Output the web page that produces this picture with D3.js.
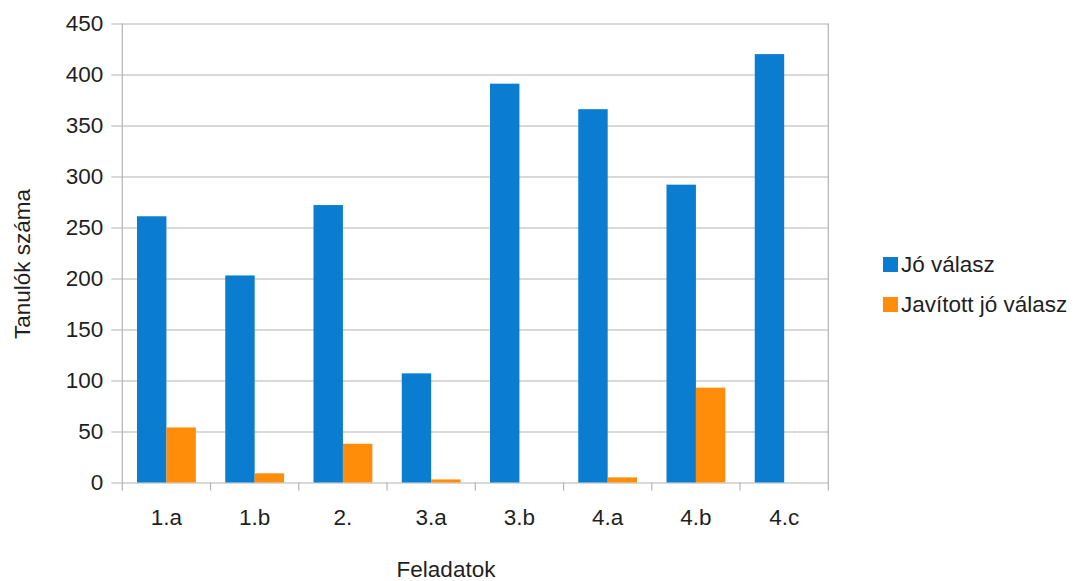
<!DOCTYPE html>
<html>
<head>
<meta charset="utf-8">
<script src="https://cdn.jsdelivr.net/npm/d3@7"></script>
<style>
  html, body { margin: 0; padding: 0; background: #fff; }
  svg { display: block; font-family: "Liberation Sans", Arial, sans-serif; }
</style>
</head>
<body>
<svg id="chart" width="1085" height="581"></svg>
<script>
// Task labels and counts of students per series
const categories = ["1.a", "1.b", "2.", "3.a", "3.b", "4.a", "4.b", "4.c"];
const goodAnswers = [261, 203, 272, 107, 391, 366, 292, 420];
const correctedAnswers = [54, 9, 38, 3, 0, 5, 93, 0];
const seriesNames = ["Jó válasz", "Javított jó válasz"];
const seriesColors = ["#0a7dd1", "#ff8d0a"];
const yTicks = [0, 50, 100, 150, 200, 250, 300, 350, 400, 450];

const svg = d3.select("#chart");
const plot = { left: 122.3, right: 828.3, top: 23.5, bottom: 482.5 };
const textColor = "#1f1f1f";
const gridColor = "#b3b3b3";
const fontSize = 22.5;

const x = d3.scaleBand().domain(categories).range([plot.left, plot.right]).paddingInner(0).paddingOuter(0);
const sub = d3.scaleBand().domain([0, 1]).range([x.bandwidth() / 6, x.bandwidth() * 5 / 6]).padding(0);
const y = d3.scaleLinear().domain([0, 450]).range([plot.bottom, plot.top]);

// horizontal gridlines with outer ticks
const yAxis = d3.axisLeft(y).tickValues(yTicks).tickSize(plot.right - plot.left + 11).tickPadding(8);
const gy = svg.append("g").attr("transform", `translate(${plot.right},0)`).call(yAxis);
gy.select(".domain").remove();
gy.selectAll(".tick line").attr("stroke", gridColor).attr("stroke-width", 1.2);
gy.selectAll(".tick text").attr("fill", textColor).attr("font-size", fontSize)
  .attr("font-family", "Liberation Sans, Arial, sans-serif");

// vertical frame lines at left and right of the plot
svg.append("line").attr("x1", plot.left).attr("x2", plot.left)
  .attr("y1", plot.top).attr("y2", plot.bottom + 8).attr("stroke", gridColor).attr("stroke-width", 1.2);
svg.append("line").attr("x1", plot.right).attr("x2", plot.right)
  .attr("y1", plot.top).attr("y2", plot.bottom + 8).attr("stroke", gridColor).attr("stroke-width", 1.2);

// category axis
const xAxis = d3.axisBottom(x).tickSize(0).tickPadding(27);
const gx = svg.append("g").attr("transform", `translate(0,${plot.bottom})`).call(xAxis);
gx.select(".domain").remove();
gx.selectAll(".tick text").attr("fill", textColor).attr("font-size", fontSize)
  .attr("font-family", "Liberation Sans, Arial, sans-serif");
// ticks on band boundaries
svg.append("g").selectAll("line").data(categories.slice(1)).join("line")
  .attr("x1", d => x(d)).attr("x2", d => x(d))
  .attr("y1", plot.bottom).attr("y2", plot.bottom + 8)
  .attr("stroke", gridColor).attr("stroke-width", 1.2);

// bars
const rows = categories.map((c, i) => ({ c, v: [goodAnswers[i], correctedAnswers[i]] }));
const groups = svg.append("g").selectAll("g").data(rows).join("g")
  .attr("transform", d => `translate(${x(d.c)},0)`);
groups.selectAll("rect").data(d => d.v.map((v, k) => ({ v, k }))).join("rect")
  .attr("x", d => sub(d.k))
  .attr("width", sub.bandwidth())
  .attr("y", d => y(d.v))
  .attr("height", d => y(0) - y(d.v))
  .attr("fill", d => seriesColors[d.k]);

// axis titles
svg.append("text").attr("x", 446).attr("y", 577).attr("text-anchor", "middle")
  .attr("fill", textColor).attr("font-size", fontSize).text("Feladatok");
svg.append("text").attr("transform", "translate(30,264) rotate(-90)").attr("text-anchor", "middle")
  .attr("fill", textColor).attr("font-size", fontSize).text("Tanulók száma");

// legend
const legend = svg.append("g").selectAll("g").data(seriesNames).join("g")
  .attr("transform", (d, i) => `translate(883,${257 + i * 40})`);
legend.append("rect").attr("width", 15).attr("height", 15).attr("fill", (d, i) => seriesColors[i]);
legend.append("text").attr("x", 18).attr("y", 15).attr("fill", textColor)
  .attr("font-size", fontSize).text(d => d);
</script>
</body>
</html>
